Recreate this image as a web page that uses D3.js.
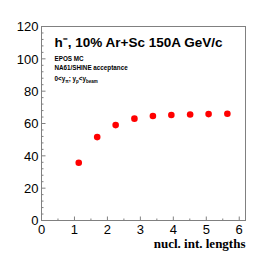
<!DOCTYPE html>
<html><head><meta charset="utf-8">
<script src="https://cdn.jsdelivr.net/npm/d3@7"></script>
<style>body{margin:0;background:#fff}svg{display:block}</style>
</head><body>
<script>
const xValues = [1.13, 1.69, 2.25, 2.82, 3.38, 3.94, 4.51, 5.07, 5.64];
const yValues = [35.7, 51.6, 59.0, 63.0, 64.6, 65.3, 65.6, 65.8, 66.0];
const xTicks = [0, 1, 2, 3, 4, 5, 6];
const yTicks = [0, 20, 40, 60, 80, 100, 120];
const title = "h\u207B, 10% Ar+Sc 150A GeV/c";
const xTitle = "nucl. int. lengths";

const W = 273, H = 260;
const L = 41.5, R = 245.5, T = 26.5, B = 220.5;
const svg = d3.select("body").append("svg").attr("width", W).attr("height", H);
const x = d3.scaleLinear().domain([0, 6.19]).range([L, R]);
const y = d3.scaleLinear().domain([0, 120]).range([B, T]);
const axisColor = "#808080";

// frame
svg.append("rect").attr("x", L).attr("y", T).attr("width", R - L).attr("height", B - T)
  .attr("fill", "none").attr("stroke", axisColor).attr("stroke-width", 1);

// y axis ticks
const yMinor = d3.range(0, 121, 4).filter(v => v % 20 !== 0);
const yAxis = svg.append("g");
yAxis.selectAll("line.maj").data(yTicks).join("line")
  .attr("x1", L).attr("x2", L + 4).attr("y1", d => y(d)).attr("y2", d => y(d))
  .attr("stroke", axisColor).attr("stroke-width", 1);
yAxis.selectAll("line.min").data(yMinor).join("line")
  .attr("x1", L).attr("x2", L + 2).attr("y1", d => y(d)).attr("y2", d => y(d))
  .attr("stroke", axisColor).attr("stroke-width", 1);
yAxis.selectAll("text").data(yTicks).join("text")
  .attr("x", L - 3).attr("y", d => y(d) + 4.7)
  .attr("text-anchor", "end").attr("font-family", "Liberation Sans, Arial, sans-serif")
  .attr("font-size", 13).attr("fill", "#000").text(d => d);

// x axis ticks
const xMinor = [0.5, 1.5, 2.5, 3.5, 4.5, 5.5];
const xAxis = svg.append("g");
xAxis.selectAll("line.maj").data(xTicks).join("line")
  .attr("x1", d => x(d)).attr("x2", d => x(d)).attr("y1", B).attr("y2", B - 4)
  .attr("stroke", axisColor).attr("stroke-width", 1);
xAxis.selectAll("line.min").data(xMinor).join("line")
  .attr("x1", d => x(d)).attr("x2", d => x(d)).attr("y1", B).attr("y2", B - 2)
  .attr("stroke", axisColor).attr("stroke-width", 1);
xAxis.selectAll("text").data(xTicks).join("text")
  .attr("x", d => x(d)).attr("y", B + 13)
  .attr("text-anchor", "middle").attr("font-family", "Liberation Sans, Arial, sans-serif")
  .attr("font-size", 13).attr("fill", "#000").text(d => d);

// x title
svg.append("text").attr("x", R).attr("y", 247.5).attr("text-anchor", "end")
  .attr("font-family", "Liberation Serif, Times New Roman, serif").attr("font-weight", "bold")
  .attr("font-size", 13).attr("fill", "#000").text(xTitle);

// points
svg.append("g").selectAll("circle").data(xValues.map((v, i) => [v, yValues[i]])).join("circle")
  .attr("cx", d => x(d[0])).attr("cy", d => y(d[1])).attr("r", 3.3).attr("fill", "#ff0000");

// title
svg.append("text").attr("x", 54.5).attr("y", 47.2)
  .attr("font-family", "Liberation Sans, Arial, sans-serif").attr("font-weight", "bold")
  .attr("font-size", 13.5).attr("fill", "#000").text(title);

const lab = { fam: "Liberation Sans, Arial, sans-serif", size: 6.3 };
svg.append("text").attr("x", 54.5).attr("y", 60.8).attr("font-family", lab.fam)
  .attr("font-weight", "bold").attr("font-size", lab.size).text("EPOS MC");
svg.append("text").attr("x", 54.5).attr("y", 69.8).attr("font-family", lab.fam)
  .attr("font-weight", "bold").attr("font-size", lab.size).text("NA61/SHINE acceptance");
const t3 = svg.append("text").attr("x", 54.5).attr("y", 80.5).attr("font-family", lab.fam)
  .attr("font-weight", "bold").attr("font-size", lab.size);
const parts = [["0<y", false], ["\u03C0", true], ["; y", false], ["p", true], ["<y", false], ["beam", true]];
parts.forEach(([s, sub]) => {
  t3.append("tspan").attr("font-size", sub ? 4.5 : lab.size)
    .attr("baseline-shift", sub ? "-30%" : null).text(s);
});
</script>
</body></html>
